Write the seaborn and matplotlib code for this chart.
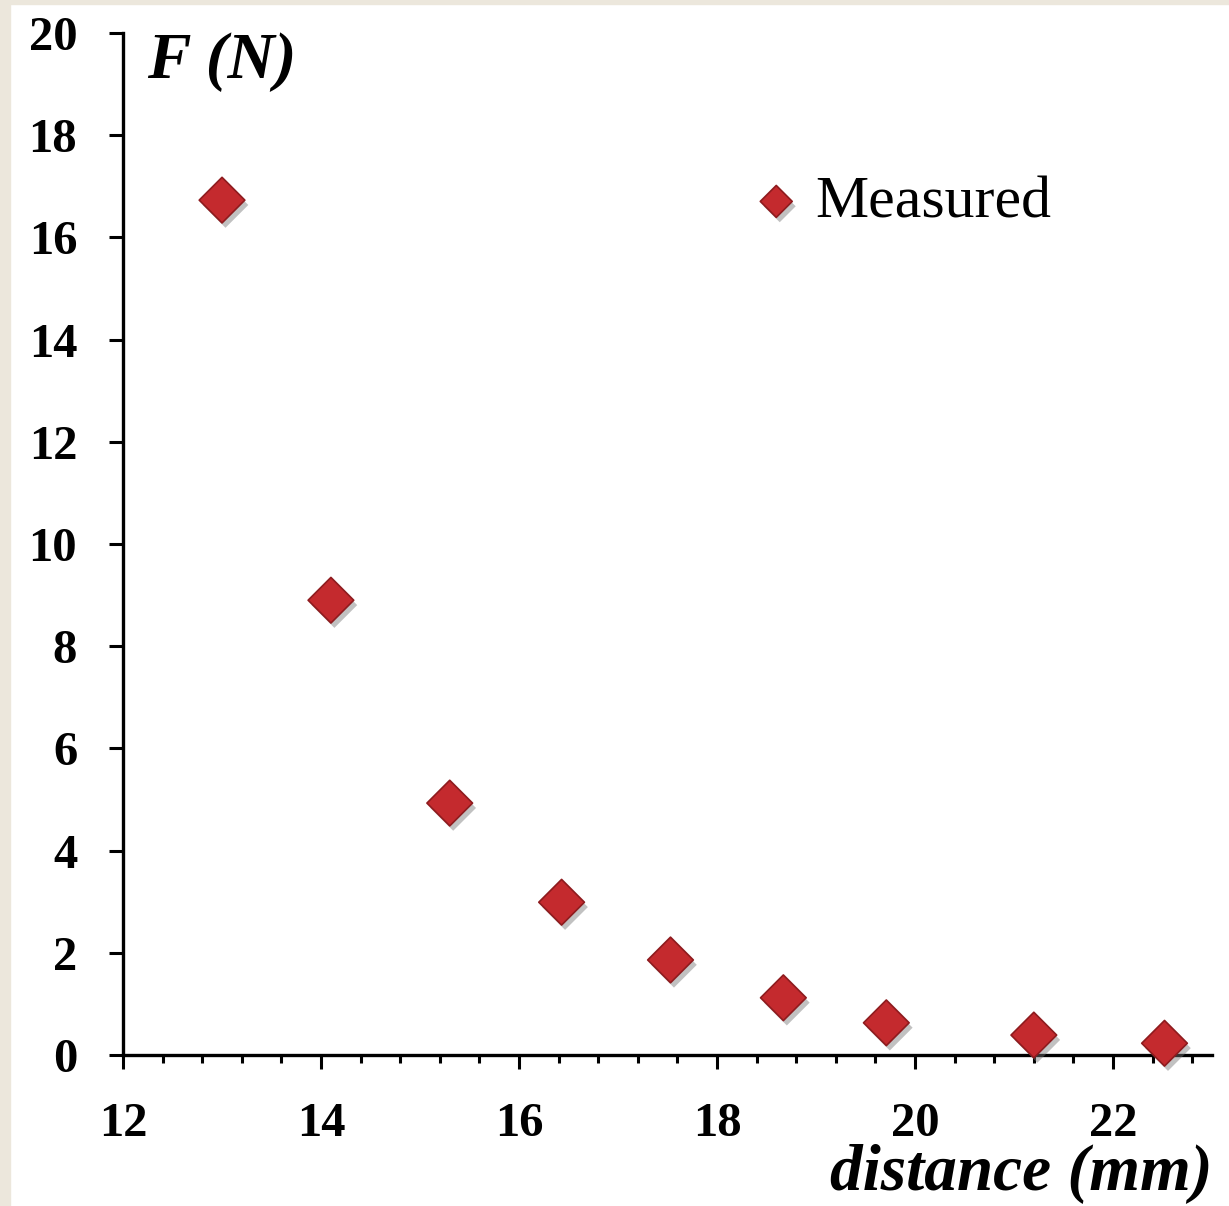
import seaborn as sns
import matplotlib.pyplot as plt
import matplotlib.patheffects as pe
from matplotlib.patches import Rectangle
from matplotlib.ticker import MultipleLocator
import numpy as np
import pandas as pd

distance = [13.0, 14.1, 15.3, 16.43, 17.53, 18.67, 19.71, 21.2, 22.52]
force = [16.73, 8.9, 4.93, 2.99, 1.86, 1.12, 0.63, 0.39, 0.23]

df = pd.DataFrame({'distance': distance, 'F': force})

sns.set_style('ticks')
plt.rcParams['font.family'] = ['Liberation Serif', 'DejaVu Serif']
plt.rcParams['text.color'] = 'black'
plt.rcParams['xtick.color'] = 'black'
plt.rcParams['ytick.color'] = 'black'

fig = plt.figure(figsize=(12.29, 12.06), dpi=100, facecolor='white')
# beige frame strips of the original slide
fig.patches.append(Rectangle((0, 0), 0.008, 1, transform=fig.transFigure, color='#ece7dc', zorder=0))
fig.patches.append(Rectangle((0, 0.9965), 1, 0.0035, transform=fig.transFigure, color='#ece7dc', zorder=0))

ax = fig.add_axes([0.1001, 0.1252, 0.8861, 0.8474])

sns.scatterplot(data=df, x='distance', y='F', marker='D', s=540,
                color='#c42a2e', edgecolor='#8e1b1e', linewidth=1.2,
                label='Measured', ax=ax, zorder=5, clip_on=False)
ax.collections[0].set_path_effects([pe.SimplePatchShadow(offset=(2.5, -3.5), shadow_rgbFace='#777777', alpha=0.45),
                                    pe.Normal()])

ax.set_xlim(12, 23)
ax.set_ylim(0, 20)
ax.xaxis.set_major_locator(MultipleLocator(2))
ax.xaxis.set_minor_locator(MultipleLocator(0.4))
ax.yaxis.set_major_locator(MultipleLocator(2))

for s in ['top', 'right']:
    ax.spines[s].set_visible(False)
for s in ['left', 'bottom']:
    ax.spines[s].set_linewidth(2.4)
    ax.spines[s].set_color('black')

ax.tick_params(axis='y', which='major', direction='out', length=10, width=2.2, pad=23, labelsize=35)
ax.tick_params(axis='x', which='major', direction='out', length=10, width=2.2, pad=24, labelsize=35)
ax.tick_params(axis='x', which='minor', direction='out', length=6, width=2.2)
for lab in ax.get_xticklabels() + ax.get_yticklabels():
    lab.set_fontweight('bold')

ax.set_xlabel('')
ax.set_ylabel('')
ax.text(0.022, 0.956, 'F (N)', transform=ax.transAxes, fontsize=47, fontweight='bold',
        fontstyle='italic', va='baseline', ha='left')
ax.text(1.0, -0.132, 'distance (mm)', transform=ax.transAxes, fontsize=47, fontweight='bold',
        fontstyle='italic', va='baseline', ha='right', clip_on=False)

leg = ax.legend(loc='center left', bbox_to_anchor=(0.545, 0.834), frameon=False, fontsize=43,
                markerscale=0.7, handletextpad=0.15, borderpad=0, handlelength=1.0)

fig.savefig('out.png', dpi=100, facecolor=fig.get_facecolor())
